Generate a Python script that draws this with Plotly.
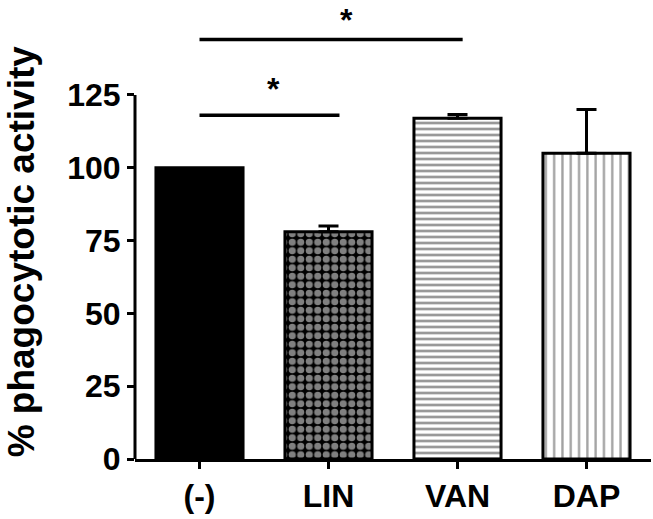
import plotly.graph_objects as go

categories = ["(-)", "LIN", "VAN", "DAP"]
values = [100, 78, 117, 105]
errors = [0, 2, 1.3, 15]
y_ticks = [0, 25, 50, 75, 100, 125]

# significance brackets: (x_start, x_end, y, star_x, star_y)
brackets = [(0, 1.085, 118, 0.57, 127), (0, 2.04, 144, 1.14, None)]

patterns = [
    dict(shape=""),
    dict(shape=".", fgcolor="white", bgcolor="black", size=8.5, solidity=0.55),
    dict(shape="-", fgcolor="#333333", bgcolor="white", size=6, solidity=0.45),
    dict(shape="|", fgcolor="#444444", bgcolor="white", size=8.3, solidity=0.28),
]
colors = ["black", "black", "white", "white"]

font = dict(family="Liberation Sans, Arial, sans-serif", size=32, color="black", weight="bold")

fig = go.Figure()
for i, c in enumerate(categories):
    fig.add_trace(go.Bar(
        x=[c], y=[values[i]],
        width=0.675,
        marker=dict(color=colors[i], pattern=patterns[i], line=dict(color="black", width=3)),
        error_y=dict(type="data", symmetric=False, array=[errors[i]], arrayminus=[0],
                     color="black", thickness=3, width=10, visible=errors[i] > 0),
        showlegend=False,
    ))

ymax = 157.6
fig.update_layout(
    width=653, height=519,
    margin=dict(l=135, r=2, t=0, b=60),
    plot_bgcolor="white", paper_bgcolor="white",
    bargap=0.325,
    font=font,
    xaxis=dict(range=[-0.5, 3.5], showline=True, linewidth=3, linecolor="black",
               ticks="outside", ticklen=7, tickwidth=3, tickcolor="black",
               tickfont=font, showgrid=False, zeroline=False, automargin=False),
    yaxis=dict(range=[0, ymax], tickvals=y_ticks, showline=False,
               ticks="outside", ticklen=7, tickwidth=3, tickcolor="black",
               tickfont=font, showgrid=False, zeroline=False, automargin=False),
)

# y axis line only from 0 to 125
fig.add_shape(type="line", xref="paper", yref="y", x0=0, x1=0, y0=0, y1=y_ticks[-1],
              line=dict(color="black", width=3))

for x0, x1, yb, sx, sy in brackets:
    fig.add_shape(type="line", xref="x", yref="y", x0=x0, x1=x1, y0=yb, y1=yb,
                  line=dict(color="black", width=3.5))
    if sy is None:
        fig.add_annotation(x=sx, y=ymax, xref="x", yref="y", text="*", showarrow=False,
                           font=font, yanchor="top")
    else:
        fig.add_annotation(x=sx, y=sy, xref="x", yref="y", text="*", showarrow=False,
                           font=font, yanchor="middle")

fig.add_annotation(text="% phagocytotic activity", textangle=-90, xref="paper", yref="y",
                   x=(21 - 135) / 516, y=71.3, xanchor="center", yanchor="middle",
                   showarrow=False, font=dict(family=font["family"], size=37, color="black", weight="bold"))

fig.write_html("out.html", config={"displayModeBar": False},
               post_script="document.body.style.margin='0px';document.body.style.overflow='hidden';")
